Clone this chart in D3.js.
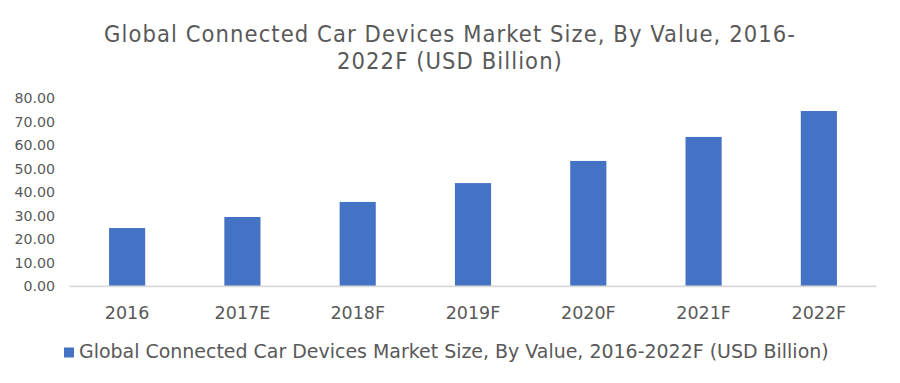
<!DOCTYPE html>
<html><head><meta charset="utf-8">
<script src="https://cdn.jsdelivr.net/npm/d3@7"></script>
<style>
html,body{margin:0;padding:0;background:#fff;}
svg{display:block;}
</style></head>
<body>
<svg id="chart" width="900" height="383"></svg>
<script>
const categories = ["2016","2017E","2018F","2019F","2020F","2021F","2022F"];
const values = [24.6, 29.3, 35.7, 43.7, 53.1, 63.3, 74.3];
const yTicks = [0,10,20,30,40,50,60,70,80];
const titleLines = ["Global Connected Car Devices Market Size, By Value, 2016-", "2022F (USD Billion)"];
const seriesName = "Global Connected Car Devices Market Size, By Value, 2016-2022F (USD Billion)";

const svg = d3.select("#chart");
const textColor = "#595959";
const barColor = "#4472C4";

const x = d3.scaleBand().domain(categories).range([69.5, 876.5]).paddingInner(0.6865).paddingOuter(0.343);
const y = d3.scaleLinear().domain([0, 80]).range([286, 97.6]);

// title (one text element, wrapped into two lines)
const title = svg.append("text").attr("font-family", "'DejaVu Sans Condensed', 'DejaVu Sans', sans-serif")
  .attr("font-stretch", "condensed").attr("fill", textColor).attr("text-anchor", "middle").attr("font-size", 23.5);
const t1 = title.append("tspan").attr("x", 450).attr("y", 41.5).text(titleLines[0]);
title.append("tspan").attr("x", 450).attr("y", 69).text(titleLines[1]);
const w1 = t1.node().getComputedTextLength();
const ls = Math.max(0, (692 - w1) / titleLines[0].length);
title.attr("letter-spacing", ls);

// y axis labels
const yAxis = d3.axisLeft(y).tickValues(yTicks).tickFormat(d3.format(".2f")).tickSize(0).tickPadding(0);
const gy = svg.append("g").attr("transform", "translate(55,0)").call(yAxis);
gy.select(".domain").remove();
gy.selectAll("text").attr("font-family", "Verdana, 'DejaVu Sans', sans-serif").attr("font-size", 14.2)
  .attr("fill", textColor).attr("dy", "0.35em").attr("dx", 0);

// bars
svg.append("g").selectAll("rect").data(categories).join("rect")
  .attr("x", d => x(d)).attr("width", x.bandwidth())
  .attr("y", (d, i) => y(values[i])).attr("height", (d, i) => y(0) - y(values[i]))
  .attr("fill", barColor);

// x axis
const xAxis = d3.axisBottom(x).tickSize(0).tickPadding(0);
const gx = svg.append("g").attr("transform", `translate(0,${y(0)})`).call(xAxis);
gx.select(".domain").attr("stroke", "#d9d9d9").attr("stroke-width", 1.7)
  .attr("d", `M69.5,0.3H876.5`);
gx.selectAll("text").attr("font-family", "Verdana, 'DejaVu Sans', sans-serif").attr("font-size", 17.5)
  .attr("fill", textColor).attr("dy", 0).attr("y", 32.5);

// legend
const lg = svg.append("g");
lg.append("rect").attr("x", 64).attr("y", 347.5).attr("width", 10).attr("height", 10).attr("fill", barColor);
const lt = lg.append("text").attr("x", 79).attr("y", 358).attr("font-family", "Verdana, 'DejaVu Sans', sans-serif")
  .attr("font-size", 16).attr("fill", textColor).text(seriesName);
const lw = lt.node().getComputedTextLength();
lt.attr("font-size", 16 * 750 / lw);
</script>
</body></html>
